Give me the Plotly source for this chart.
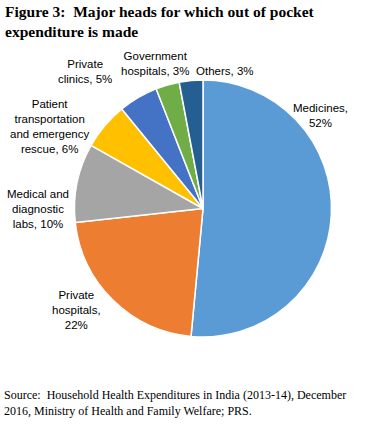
import plotly.graph_objects as go

categories = ["Medicines", "Private hospitals", "Medical and diagnostic labs",
              "Patient transportation and emergency rescue", "Private clinics",
              "Government hospitals", "Others"]
shares = [52, 22, 10, 6, 5, 3, 3]
label_texts = ["Medicines,<br>52%", "Private<br>hospitals,<br>22%",
               "Medical and<br>diagnostic<br>labs, 10%",
               "Patient<br>transportation<br>and emergency<br>rescue, 6%",
               "Private<br>clinics, 5%", "Government<br>hospitals, 3%", "Others, 3%"]

colors = ["#5B9BD5", "#ED7D31", "#A5A5A5", "#FFC000", "#4472C4", "#70AD47", "#255E91"]

W, H = 371, 432
# label anchor centres in pixels (layout)
label_px = [(320, 115), (76, 310), (38, 209), (50, 127), (85, 72), (155, 63), (225, 71)]

fig = go.Figure(go.Pie(
    labels=categories, values=shares, sort=False, direction="clockwise",
    rotation=0, textinfo="none", hole=0,
    marker=dict(colors=colors, line=dict(color="white", width=1.5)),
    domain=dict(x=[74 / W, 332 / W], y=[1 - 337 / H, 1 - 80 / H]),
    showlegend=False,
))

annotations = []
for txt, (px, py) in zip(label_texts, label_px):
    annotations.append(dict(
        text=txt, x=px / W, y=1 - py / H, xref="paper", yref="paper",
        xanchor="center", yanchor="middle", showarrow=False, align="center",
        font=dict(family="Liberation Sans, Arial", size=11.5, color="#000000"),
    ))

annotations.append(dict(
    text="<b>Figure 3:  Major heads for which out of pocket<br>expenditure is made</b>",
    x=3 / W, y=1 - 1 / H, xref="paper", yref="paper", xanchor="left", yanchor="top",
    showarrow=False, align="left",
    font=dict(family="Liberation Serif, Times New Roman", size=15.5, color="#000000"),
))
annotations.append(dict(
    text="Source:  Household Health Expenditures in India (2013-14), December<br>2016, Ministry of Health and Family Welfare; PRS.",
    x=2 / W, y=1 - 386 / H, xref="paper", yref="paper", xanchor="left", yanchor="top",
    showarrow=False, align="left",
    font=dict(family="Liberation Serif, Times New Roman", size=12, color="#000000"),
))

fig.update_layout(
    width=W, height=H, margin=dict(l=0, r=0, t=0, b=0),
    paper_bgcolor="white", plot_bgcolor="white",
    annotations=annotations,
)

fig.write_html("out.html", config={"displayModeBar": False},
               post_script="document.body.style.margin='0';document.body.style.overflow='hidden';")
